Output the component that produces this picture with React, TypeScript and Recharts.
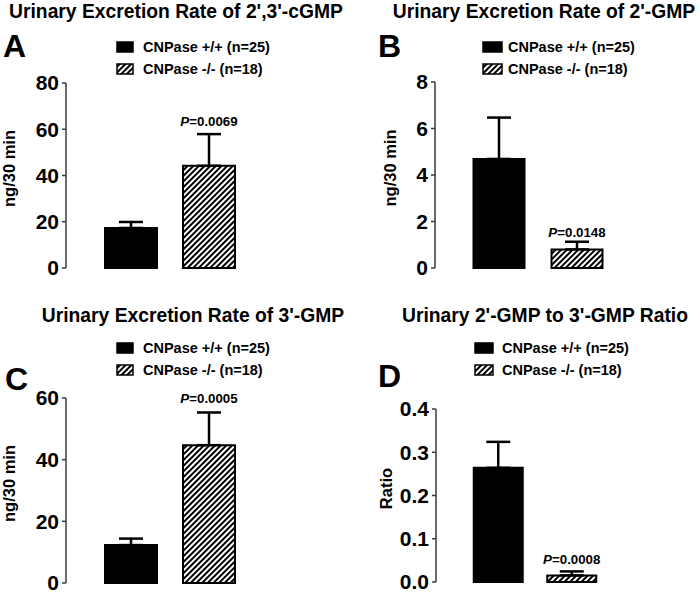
import React from "react";
import { BarChart, Bar, XAxis, YAxis, Cell, ErrorBar, LabelList } from "recharts";

const FONT = "'Liberation Sans', Arial, Helvetica, sans-serif";
const AXIS = "#3a3a3a";

const groups = ["CNPase +/+ (n=25)", "CNPase -/- (n=18)"];

// A: 2',3'-cGMP
const cgmp23Mean = [17.3, 44.2];
const cgmp23Sem = [2.6, 13.7];
const cgmp23P = ["", "0.0069"];
const cgmp23Ticks = [0, 20, 40, 60, 80];

// B: 2'-GMP
const gmp2Mean = [4.69, 0.8];
const gmp2Sem = [1.78, 0.33];
const gmp2P = ["", "0.0148"];
const gmp2Ticks = [0, 2, 4, 6, 8];

// C: 3'-GMP
const gmp3Mean = [12.3, 44.7];
const gmp3Sem = [2.1, 10.6];
const gmp3P = ["", "0.0005"];
const gmp3Ticks = [0, 20, 40, 60];

// D: ratio
const ratioMean = [0.264, 0.0153];
const ratioSem = [0.06, 0.0092];
const ratioP = ["", "0.0008"];
const ratioTicks = [0, 0.1, 0.2, 0.3, 0.4];

type Row = { group: string; mean: number; err: [number, number]; sem: number; p: string };

const makeRows = (mean: number[], sem: number[], p: string[]): Row[] =>
  groups.map((g, i) => ({ group: g, mean: mean[i], sem: sem[i], err: [0, sem[i]], p: p[i] }));

const fills = ["#000", "url(#hatch)"];

function Panel(props: any) {
  const { rows, ticks, fmt, title, letter, yLabel, box, lay } = props;
  const plotMid = lay.margin.top + (box.h - lay.margin.top - lay.margin.bottom) / 2;

  const pLabel = (lp: any) => {
    const row = rows[lp.index];
    if (!row || !row.p) return null;
    const pxPer = lp.height / row.mean;
    const top = lp.y - row.sem * pxPer;
    return (
      <text x={lp.x + lp.width / 2} y={top - lay.pLift} textAnchor="middle" fontFamily={FONT} fontSize={13.3} fontWeight="bold" fill="#000">
        <tspan fontStyle="italic">P</tspan>
        <tspan>={row.p}</tspan>
      </text>
    );
  };

  const yLab = () => (
    <text
      x={lay.yLabelX}
      y={plotMid - 7}
      transform={`rotate(-90 ${lay.yLabelX} ${plotMid - 7})`}
      textAnchor="middle"
      dominantBaseline="central"
      fontFamily={FONT}
      fontSize={16.5}
      fontWeight="bold"
      fill="#000"
    >
      {yLabel}
    </text>
  );

  return (
    <div style={{ position: "absolute", left: box.x, top: box.y, width: box.w, height: box.h }}>
      <BarChart width={box.w} height={box.h} data={rows} margin={lay.margin}>
        <XAxis
          dataKey="group"
          tick={false}
          tickLine={false}
          height={0}
          axisLine={{ stroke: AXIS, strokeWidth: 1.5 }}
          padding={lay.padding}
        />
        <YAxis
          width={lay.yAxisWidth}
          domain={[ticks[0], ticks[ticks.length - 1]]}
          ticks={ticks}
          interval={0}
          tickFormatter={fmt}
          tickSize={4}
          tickMargin={3}
          axisLine={{ stroke: AXIS, strokeWidth: 1.5 }}
          tickLine={{ stroke: AXIS, strokeWidth: 1.5 }}
          tick={{ fill: "#000", fontFamily: FONT, fontSize: 21, fontWeight: "bold" }}
          label={{ content: yLab }}
        />
        <Bar dataKey="mean" barSize={lay.barSize} stroke="#000" strokeWidth={2} isAnimationActive={false}>
          {rows.map((r: Row, i: number) => (
            <Cell key={r.group} fill={fills[i]} />
          ))}
          <ErrorBar dataKey="err" direction="y" width={12} stroke="#000" strokeWidth={2.5} />
          <LabelList dataKey="p" content={pLabel} />
        </Bar>
      </BarChart>
      <svg width={box.w} height={box.h} style={{ position: "absolute", left: 0, top: 0, pointerEvents: "none" }}>
        {props.defs}
        <text x={lay.titleX} y={lay.titleY} textAnchor="middle" fontFamily={FONT} fontSize={19.3} fontWeight="bold" fill="#000">
          {title}
        </text>
        <text x={lay.letterX} y={lay.letterY} fontFamily={FONT} fontSize={32} fontWeight="bold" fill="#000">
          {letter}
        </text>
        {groups.map((g, i) => (
          <g key={g}>
            <rect
              x={lay.swatchX}
              y={lay.legendY[i] - 5}
              width={lay.swatchW}
              height={10}
              fill={fills[i]}
              stroke="#000"
              strokeWidth={1.5}
            />
            <text x={lay.textX} y={lay.legendY[i] + 5} fontFamily={FONT} fontSize={14.5} fontWeight="bold" fill="#000">
              {g}
            </text>
          </g>
        ))}
      </svg>
    </div>
  );
}

const hatchDefs = (
  <defs>
    <pattern id="hatch" width={4} height={4} patternUnits="userSpaceOnUse" patternTransform="rotate(45)">
      <rect width={4} height={4} fill="#fff" />
      <line x1={2} y1={0} x2={2} y2={4} stroke="#000" strokeWidth={2} />
    </pattern>
  </defs>
);

export default function App() {
  return (
    <div style={{ position: "absolute", left: 0, top: 0, width: 700, height: 595, background: "#fff" }}>
      <Panel
        defs={hatchDefs}
        rows={makeRows(cgmp23Mean, cgmp23Sem, cgmp23P)}
        ticks={cgmp23Ticks}
        fmt={(v: number) => String(v)}
        title="Urinary Excretion Rate of 2',3'-cGMP"
        letter="A"
        yLabel="ng/30 min"
        box={{ x: 0, y: 0, w: 350, h: 290 }}
        lay={{
          margin: { top: 83, right: 75, bottom: 22, left: 0 },
          yAxisWidth: 66,
          padding: { left: 26, right: 27 },
          barSize: 52,
          yLabelX: 9,
          pLift: 8,
          titleX: 176,
          titleY: 18,
          letterX: 3,
          letterY: 57,
          swatchX: 117,
          swatchW: 16,
          textX: 143,
          legendY: [47, 69],
        }}
      />
      <Panel
        rows={makeRows(gmp2Mean, gmp2Sem, gmp2P)}
        ticks={gmp2Ticks}
        fmt={(v: number) => String(v)}
        title="Urinary Excretion Rate of 2'-GMP"
        letter="B"
        yLabel="ng/30 min"
        box={{ x: 350, y: 0, w: 350, h: 290 }}
        lay={{
          margin: { top: 82, right: 57, bottom: 22, left: 0 },
          yAxisWidth: 85,
          padding: { left: 24.5, right: 27.5 },
          barSize: 51,
          yLabelX: 39.5,
          pLift: 5,
          titleX: 194,
          titleY: 18,
          letterX: 28,
          letterY: 57,
          swatchX: 133,
          swatchW: 19,
          textX: 158,
          legendY: [47, 69],
        }}
      />
      <Panel
        rows={makeRows(gmp3Mean, gmp3Sem, gmp3P)}
        ticks={gmp3Ticks}
        fmt={(v: number) => String(v)}
        title="Urinary Excretion Rate of 3'-GMP"
        letter="C"
        yLabel="ng/30 min"
        box={{ x: 0, y: 290, w: 350, h: 305 }}
        lay={{
          margin: { top: 108, right: 75, bottom: 12, left: 0 },
          yAxisWidth: 66,
          padding: { left: 26, right: 27 },
          barSize: 52,
          yLabelX: 9,
          pLift: 9,
          titleX: 193,
          titleY: 32,
          letterX: 5,
          letterY: 100,
          swatchX: 117,
          swatchW: 16,
          textX: 143,
          legendY: [58, 80],
        }}
      />
      <Panel
        rows={makeRows(ratioMean, ratioSem, ratioP)}
        ticks={ratioTicks}
        fmt={(v: number) => v.toFixed(1)}
        title="Urinary 2'-GMP to 3'-GMP Ratio"
        letter="D"
        yLabel="Ratio"
        box={{ x: 350, y: 290, w: 350, h: 305 }}
        lay={{
          margin: { top: 119, right: 67, bottom: 13, left: 0 },
          yAxisWidth: 86,
          padding: { left: 25.75, right: 24.25 },
          barSize: 49,
          yLabelX: 36,
          pLift: 7,
          titleX: 195,
          titleY: 32,
          letterX: 28,
          letterY: 97,
          swatchX: 125,
          swatchW: 18,
          textX: 152,
          legendY: [58, 80],
        }}
      />
    </div>
  );
}
